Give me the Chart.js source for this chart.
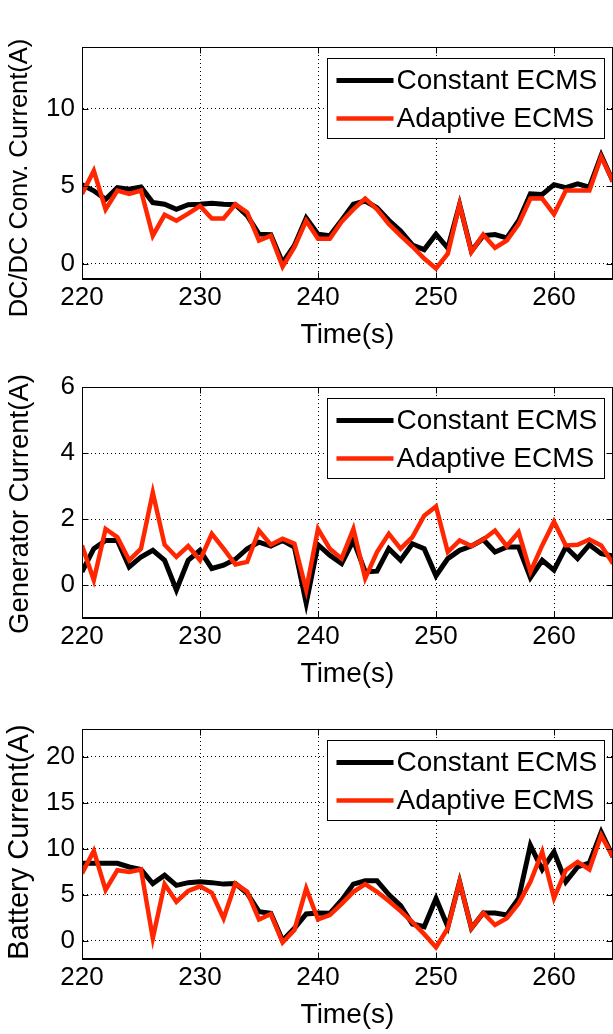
<!DOCTYPE html>
<html><head><meta charset="utf-8">
<script src="https://cdn.jsdelivr.net/npm/chart.js@4.4.1/dist/chart.umd.min.js"></script>
<style>
html,body{margin:0;padding:0;background:#fff;overflow:hidden;width:613px;height:1034px;position:relative;}
.p{position:absolute;left:0;width:613px;}
canvas{display:block;}
</style></head><body>
<div class="p" style="top:7px;height:353px"><canvas id="c1" width="613" height="353"></canvas></div>
<div class="p" style="top:347px;height:352px"><canvas id="c2" width="613" height="352"></canvas></div>
<div class="p" style="top:689px;height:351px"><canvas id="c3" width="613" height="351"></canvas></div>
<script>
const time = [220,221,222,223,224,225,226,227,228,229,230,231,232,233,234,235,236,237,238,239,240,241,242,243,244,245,246,247,248,249,250,251,252,253,254,255,256,257,258,259,260,261,262,263,264,265];
const seriesLabels = ['Constant ECMS','Adaptive ECMS'];
const xTicks = [220,230,240,250,260];

const dcdcConstant = [5.1,4.7,4.15,4.9,4.8,4.95,3.94,3.83,3.5,3.8,3.83,3.9,3.83,3.8,3.1,1.9,1.87,0.05,1.17,2.94,1.9,1.8,2.8,3.83,4.04,3.6,2.8,2.1,1.2,0.9,1.9,1.0,3.83,0.8,1.8,1.87,1.66,2.77,4.5,4.47,5.1,4.9,5.15,4.94,7.0,5.3];
const dcdcAdaptive = [4.5,6.0,3.5,4.72,4.5,4.72,1.8,3.15,2.77,3.23,3.72,2.91,2.91,3.83,3.3,1.49,1.8,-0.2,1.06,2.77,1.6,1.6,2.7,3.5,4.2,3.5,2.55,1.8,1.1,0.32,-0.32,0.64,3.83,0.74,1.87,1.02,1.49,2.55,4.2,4.2,3.19,4.72,4.72,4.72,6.9,5.3];
const dcdcTicks = [0,5,10];

const genConstant = [0.4,1.1,1.35,1.35,0.55,0.85,1.05,0.75,-0.15,0.75,1.05,0.5,0.6,0.78,1.1,1.3,1.18,1.35,1.15,-0.55,1.22,0.9,0.65,1.35,0.4,0.42,1.1,0.75,1.25,1.1,0.28,0.8,1.05,1.18,1.38,1.0,1.15,1.15,0.22,0.75,0.45,1.15,0.8,1.22,0.95,0.88];
const genAdaptive = [1.2,0.15,1.7,1.45,0.75,1.1,2.8,1.22,0.85,1.18,0.75,1.55,1.1,0.62,0.7,1.65,1.22,1.4,1.25,-0.15,1.7,1.1,0.8,1.7,0.2,1.0,1.55,1.1,1.45,2.1,2.38,1.0,1.35,1.18,1.38,1.65,1.18,1.6,0.4,1.2,1.92,1.2,1.22,1.38,1.2,0.65];
const genTicks = [0,2,4,6];

const battConstant = [8.4,8.4,8.4,8.4,8.0,7.73,6.2,7.1,6.0,6.3,6.4,6.3,6.14,6.2,5.13,3.14,2.96,0,1.34,2.9,3.0,2.96,4.4,6.14,6.5,6.5,5.0,3.8,1.8,1.5,4.58,1.5,6.4,1.34,3.0,3.0,2.78,4.58,10.36,7.73,9.64,6.4,8.0,8.45,11.8,9.1];
const battAdaptive = [7.3,9.75,5.5,7.65,7.47,7.73,0.25,6.14,4.22,5.4,5.9,5.2,2.42,6.2,5.3,2.3,2.9,-0.2,1.15,5.67,2.3,2.78,4.0,5.3,6.14,5.3,4.3,3.2,2.0,0.7,-0.72,1.34,6.4,1.34,3.0,1.7,2.42,4.04,6.4,9.64,4.6,7.65,8.56,7.73,11.44,9.1];
const battTicks = [0,5,10,15,20];

const BLACK = '#000000';
const RED = '#ff2600';
const TICK_FONT = {family:"'Liberation Sans Narrow','Liberation Sans',Arial,sans-serif", size:26};
const TITLE_FAMILY = "'Liberation Sans', Arial, sans-serif";
const LEGEND_FONT = "28px 'Liberation Sans', Arial, sans-serif";

const frameAndLegend = {
  id:'frameAndLegend',
  afterDraw(chart, args, opts){
    const {ctx, chartArea:a, scales:{x,y}} = chart;
    ctx.save();
    ctx.setLineDash([]);
    ctx.strokeStyle = '#000';
    ctx.lineWidth = 1;
    const L = Math.round(a.left)+0.5, R = Math.round(a.right)-0.5, T = Math.round(a.top)+0.5, B = Math.round(a.bottom)-0.5;
    ctx.strokeRect(L, T, R-L, B-T);
    const tl = 6;
    ctx.beginPath();
    x.ticks.forEach(t=>{
      const px = Math.round(x.getPixelForValue(t.value))+0.5;
      ctx.moveTo(px,B); ctx.lineTo(px,B-tl);
      ctx.moveTo(px,T); ctx.lineTo(px,T+tl);
    });
    y.ticks.forEach(t=>{
      const py = Math.round(y.getPixelForValue(t.value))+0.5;
      ctx.moveTo(L,py); ctx.lineTo(L+tl,py);
      ctx.moveTo(R,py); ctx.lineTo(R-tl,py);
    });
    ctx.stroke();
    // y axis title
    ctx.save();
    ctx.translate(20, opts.titleCenter);
    ctx.rotate(-Math.PI/2);
    ctx.font = opts.titleSize + 'px ' + TITLE_FAMILY;
    ctx.fillStyle = '#000';
    ctx.textAlign = 'center';
    ctx.textBaseline = 'middle';
    ctx.fillText(opts.title, 0, 0);
    ctx.restore();
    // legend
    const bw = 277, bh = 80;
    const bx = Math.round(a.right - 9 - bw)+0.5, by = Math.round(a.top + 11)+0.5;
    ctx.fillStyle = '#fff';
    ctx.fillRect(bx, by, bw, bh);
    ctx.strokeStyle = '#000';
    ctx.lineWidth = 1;
    ctx.strokeRect(bx, by, bw, bh);
    ctx.font = LEGEND_FONT;
    ctx.textBaseline = 'middle';
    ctx.textAlign = 'left';
    const rows = [22, 60];
    chart.data.datasets.forEach((ds,i)=>{
      const ry = by + rows[i];
      ctx.strokeStyle = ds.borderColor;
      ctx.lineWidth = ds.borderWidth;
      ctx.beginPath();
      ctx.moveTo(bx+9, ry); ctx.lineTo(bx+66, ry);
      ctx.stroke();
      ctx.fillStyle = '#000';
      ctx.fillText(ds.label, bx+69, ry+1);
    });
    ctx.restore();
  }
};

function makeChart(id, cVals, aVals, yMin, yMax, yTicks, yTitle, titleCenter, titleSize){
  return new Chart(document.getElementById(id), {
    type:'line',
    data:{
      labels: time,
      datasets:[
        {label:seriesLabels[0], data: time.map((t,i)=>({x:t,y:cVals[i]})), borderColor:BLACK, borderWidth:5, pointRadius:0, tension:0, order:1, borderJoinStyle:'miter'},
        {label:seriesLabels[1], data: time.map((t,i)=>({x:t,y:aVals[i]})), borderColor:RED, borderWidth:4.5, pointRadius:0, tension:0, order:0, borderJoinStyle:'miter'}
      ]
    },
    options:{
      responsive:false, animation:false, devicePixelRatio:1,
      layout:{padding:{top:40,left:0,right:0,bottom:0}},
      plugins:{legend:{display:false}, tooltip:{enabled:false},
        frameAndLegend:{title:yTitle, titleCenter:titleCenter, titleSize:titleSize}},
      scales:{
        x:{type:'linear', min:220, max:265,
          afterBuildTicks:s=>{s.ticks = xTicks.map(v=>({value:v}));},
          afterFit:s=>{s.height = 81;},
          grid:{color:'#000', lineWidth:1, drawTicks:false},
          border:{display:true, color:'#000', width:1, dash:[1,3]},
          ticks:{color:'#000', font:TICK_FONT, padding:3, autoSkip:false, maxRotation:0},
          title:{display:true, text:'Time(s)', color:'#000', font:{family:TITLE_FAMILY, size:28}, padding:{top:0,bottom:8}}
        },
        y:{type:'linear', min:yMin, max:yMax,
          afterBuildTicks:s=>{s.ticks = yTicks.map(v=>({value:v}));},
          afterFit:s=>{s.width = 82;},
          grid:{color:'#000', lineWidth:1, drawTicks:false},
          border:{display:true, color:'#000', width:1, dash:[1,3]},
          ticks:{color:'#000', font:TICK_FONT, padding:7, autoSkip:false},
          title:{display:false}
        }
      }
    },
    plugins:[frameAndLegend]
  });
}

makeChart('c1', dcdcConstant, dcdcAdaptive, -1, 14, dcdcTicks, 'DC/DC Conv. Current(A)', 171, 25.5);
makeChart('c2', genConstant, genAdaptive, -1, 6, genTicks, 'Generator Current(A)', 157, 27.5);
makeChart('c3', battConstant, battAdaptive, -2, 23, battTicks, 'Battery Current(A)', 153, 29);
</script>
</body></html>
